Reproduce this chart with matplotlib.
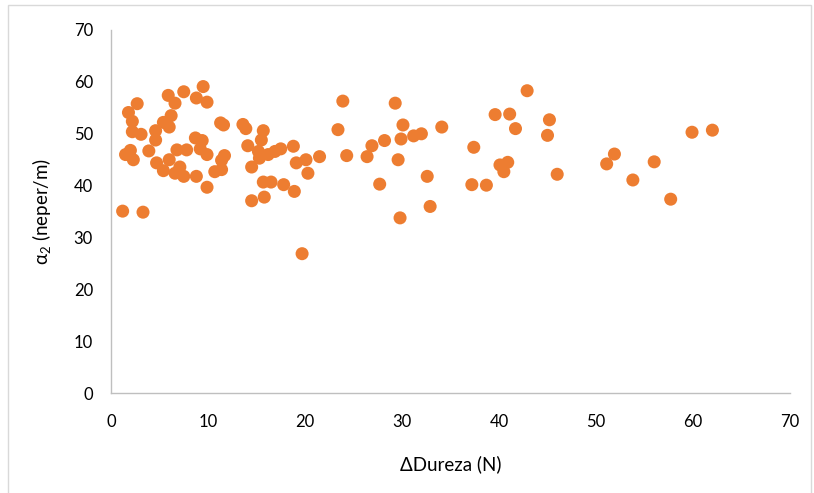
import matplotlib
matplotlib.use("Agg")
import matplotlib.pyplot as plt
from matplotlib.patches import Rectangle

# data
dureza = [
    9.5, 7.5, 5.9, 8.8, 9.9, 6.6, 2.7, 1.8, 6.2, 2.2,
    5.4, 11.3, 11.6, 6.0, 4.6, 2.2, 3.1, 4.6, 8.7, 9.4,
    1.5, 2.0, 2.3, 3.9, 6.8, 7.8, 9.2, 9.9, 11.7, 11.4,
    4.7, 6.0, 5.4, 7.1, 6.6, 7.5, 8.8, 10.7, 11.4, 9.9,
    1.2, 3.3,
    13.6, 13.9, 14.1, 14.5, 14.5, 15.7, 15.5, 15.2, 15.3, 16.2,
    16.9, 17.5, 18.8, 15.7, 16.5, 17.8, 18.9, 15.8, 19.1, 20.1,
    20.3, 21.5, 19.7, 23.4, 23.9, 24.3,
    29.3, 42.9, 39.6, 41.1, 45.2, 41.7, 45.0, 34.1, 30.1, 32.0,
    31.2, 29.9, 28.2, 26.9, 26.4, 37.4, 29.6, 40.1, 40.9, 40.5,
    46.0, 32.6, 27.7, 37.2, 38.7, 32.9, 29.8,
    51.1, 51.9, 53.8, 56.0, 57.7, 59.9, 62.0,
]
alfa2 = [
    59.1, 58.1, 57.4, 56.9, 56.1, 55.9, 55.8, 54.1, 53.5, 52.4,
    52.2, 52.1, 51.7, 51.3, 50.6, 50.4, 49.9, 48.8, 49.2, 48.7,
    46.0, 46.8, 45.0, 46.7, 46.9, 46.9, 47.1, 46.0, 45.8, 44.9,
    44.4, 45.0, 42.9, 43.6, 42.4, 41.8, 41.8, 42.7, 43.1, 39.7,
    35.1, 34.9,
    51.8, 51.0, 47.7, 43.6, 37.1, 50.6, 48.8, 46.6, 45.3, 46.0,
    46.6, 47.1, 47.6, 40.7, 40.7, 40.2, 38.9, 37.8, 44.4, 45.0,
    42.4, 45.6, 26.9, 50.8, 56.3, 45.8,
    55.9, 58.3, 53.7, 53.8, 52.7, 51.0, 49.7, 51.3, 51.7, 50.0,
    49.6, 49.0, 48.7, 47.7, 45.6, 47.4, 45.0, 44.0, 44.5, 42.7,
    42.2, 41.8, 40.3, 40.2, 40.1, 36.0, 33.8,
    44.2, 46.1, 41.1, 44.6, 37.4, 50.3, 50.7,
]
xticks = [0, 10, 20, 30, 40, 50, 60, 70]
yticks = [0, 10, 20, 30, 40, 50, 60, 70]

plt.rcParams["font.family"] = ["Lato", "DejaVu Sans"]

fig = plt.figure(figsize=(8.14, 4.93), dpi=100)
ax = fig.add_axes([111 / 814, 1 - 393.3 / 493, (790 - 111) / 814, (393.3 - 30) / 493])

ax.scatter(dureza, alfa2, s=88, color="#ED7D31", edgecolors="none", zorder=3, clip_on=False)

ax.set_xlim(0, 70)
ax.set_ylim(0, 70)
ax.set_xticks(xticks)
ax.set_yticks(yticks)
ax.tick_params(axis="both", length=0, labelsize=12, colors="#000000")
ax.tick_params(axis="x", pad=15)
ax.tick_params(axis="y", pad=13)

for side in ["top", "right"]:
    ax.spines[side].set_visible(False)
for side in ["left", "bottom"]:
    ax.spines[side].set_color("#BFBFBF")
    ax.spines[side].set_linewidth(1.0)

ax.set_xlabel("ΔDureza (N)", fontsize=13.5, labelpad=18)
ax.set_ylabel("α$_\\mathregular{2}$ (neper/m)", fontsize=13.5, labelpad=14)

# outer chart border like the spreadsheet chart area
fig.patches.append(Rectangle((8 / 814, -0.01), (811 - 8) / 814, 1 - 5 / 493 + 0.01,
                             transform=fig.transFigure, fill=False,
                             edgecolor="#D9D9D9", linewidth=1.0))

fig.savefig("out.png", dpi=100)
